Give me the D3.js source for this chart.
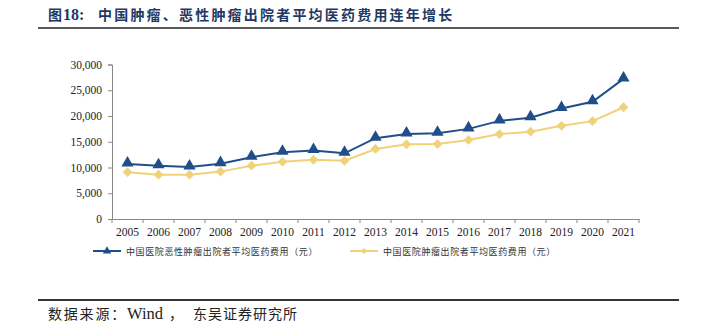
<!DOCTYPE html>
<html><head><meta charset="utf-8">
<script src="https://cdn.jsdelivr.net/npm/d3@7"></script>
<style>body{margin:0;background:#fff}svg{display:block}</style>
</head><body>
<script>
const years = ["2005","2006","2007","2008","2009","2010","2011","2012","2013","2014","2015","2016","2017","2018","2019","2020","2021"];
const malignant = [10700,10350,10100,10750,12000,12950,13300,12750,15700,16500,16650,17500,19050,19650,21450,22750,27200];
const tumor = [9100,8600,8600,9200,10350,11100,11500,11300,13600,14500,14550,15350,16500,16950,18100,19000,21700];
const yTicks = [0,5000,10000,15000,20000,25000,30000];
const seriesNames = ["中国医院恶性肿瘤出院者平均医药费用（元）","中国医院肿瘤出院者平均医药费用（元）"];
const colors = ["#1F4E89","#F0D27A"];

const W=704,H=323;
const svg=d3.select("body").append("svg").attr("width",W).attr("height",H);
const serif="'Liberation Serif','Times New Roman',serif";
const cjk="'Noto Sans CJK SC',sans-serif";

// title
svg.append("text").attr("x",48).attr("y",20).attr("font-family",cjk).attr("font-weight","bold")
  .attr("font-size",14).attr("fill","#1F3864").text("图");
svg.append("text").attr("x",63).attr("y",20).attr("font-family",serif).attr("font-weight","bold")
  .attr("font-size",16).attr("fill","#1F3864").text("18:");
svg.append("text").attr("x",98).attr("y",20).attr("font-family",cjk).attr("font-weight","bold")
  .attr("font-size",14).attr("letter-spacing",2.2).attr("fill","#1F3864").text("中国肿瘤、恶性肿瘤出院者平均医药费用连年增长");
svg.append("line").attr("x1",38).attr("x2",679).attr("y1",28).attr("y2",28).attr("stroke","#222").attr("stroke-width",1.5);
svg.append("line").attr("x1",38).attr("x2",679).attr("y1",300).attr("y2",300).attr("stroke","#333").attr("stroke-width",2);
// source
const src=svg.append("g").attr("font-size",14).attr("fill","#222");
src.append("text").attr("x",48).attr("y",319).attr("font-family",cjk).attr("letter-spacing",1.8).text("数据来源：");
src.append("text").attr("x",127).attr("y",319).attr("font-family",serif).attr("font-size",16.5).text("Wind");
src.append("text").attr("x",169).attr("y",319).attr("font-family",cjk).text("，");
src.append("text").attr("x",193).attr("y",319).attr("font-family",cjk).attr("letter-spacing",1).text("东吴证券研究所");

const x=d3.scaleBand().domain(years).range([112,639]);
const y=d3.scaleLinear().domain([0,30000]).range([219,64.5]);

const gy=svg.append("g").attr("transform","translate(112,0)")
  .call(d3.axisLeft(y).tickValues(yTicks).tickSize(4).tickPadding(6).tickFormat(d3.format(",")));
const gx=svg.append("g").attr("transform","translate(0,219)")
  .call(d3.axisBottom(x).tickSize(0).tickPadding(9));
gx.selectAll(".bt").data(years.concat(["end"])).enter().append("line")
  .attr("x1",(d,i)=>112+i*x.step()).attr("x2",(d,i)=>112+i*x.step()).attr("y1",0).attr("y2",4).attr("stroke","#888");
[gx,gy].forEach(g=>{
  g.selectAll("text").attr("font-family",serif).attr("font-size",11.5).attr("fill","#222");
  g.select(".domain").attr("stroke","#888");
  g.selectAll(".tick line").attr("stroke","#888");
});

const line=d3.line().x((d,i)=>x(years[i])+x.bandwidth()/2).y(d=>y(d));
const tri=d3.symbol().type(d3.symbolTriangle).size(64);
const dia=d3.symbol().type(d3.symbolSquare).size(48);

svg.append("path").datum(tumor).attr("d",line).attr("fill","none").attr("stroke",colors[1]).attr("stroke-width",2);
svg.selectAll(".pd").data(tumor).enter().append("path").attr("d",dia)
  .attr("transform",(d,i)=>`translate(${x(years[i])+x.bandwidth()/2},${y(d)}) rotate(45)`).attr("fill",colors[1]);
svg.append("path").datum(malignant).attr("d",line).attr("fill","none").attr("stroke",colors[0]).attr("stroke-width",2);
svg.selectAll(".pt").data(malignant).enter().append("path").attr("d",tri)
  .attr("transform",(d,i)=>`translate(${x(years[i])+x.bandwidth()/2},${y(d)-1})`).attr("fill",colors[0]);

// legend
const leg=[{x1:93,x2:121,tx:126,sym:d3.symbol().type(d3.symbolTriangle).size(30),rot:0},
           {x1:350,x2:378,tx:383,sym:d3.symbol().type(d3.symbolSquare).size(18),rot:45}];
leg.forEach((l,i)=>{
  const g=svg.append("g");
  g.append("line").attr("x1",l.x1).attr("x2",l.x2).attr("y1",251).attr("y2",251).attr("stroke",colors[i]).attr("stroke-width",2);
  g.append("path").attr("d",l.sym).attr("transform",`translate(${(l.x1+l.x2)/2},251) rotate(${l.rot})`).attr("fill",colors[i]);
  g.append("text").attr("x",l.tx).attr("y",254.5).attr("font-family",cjk).attr("font-size",9).attr("fill","#333")
    .attr("letter-spacing",0.6).text(seriesNames[i]);
});
</script>
</body></html>
